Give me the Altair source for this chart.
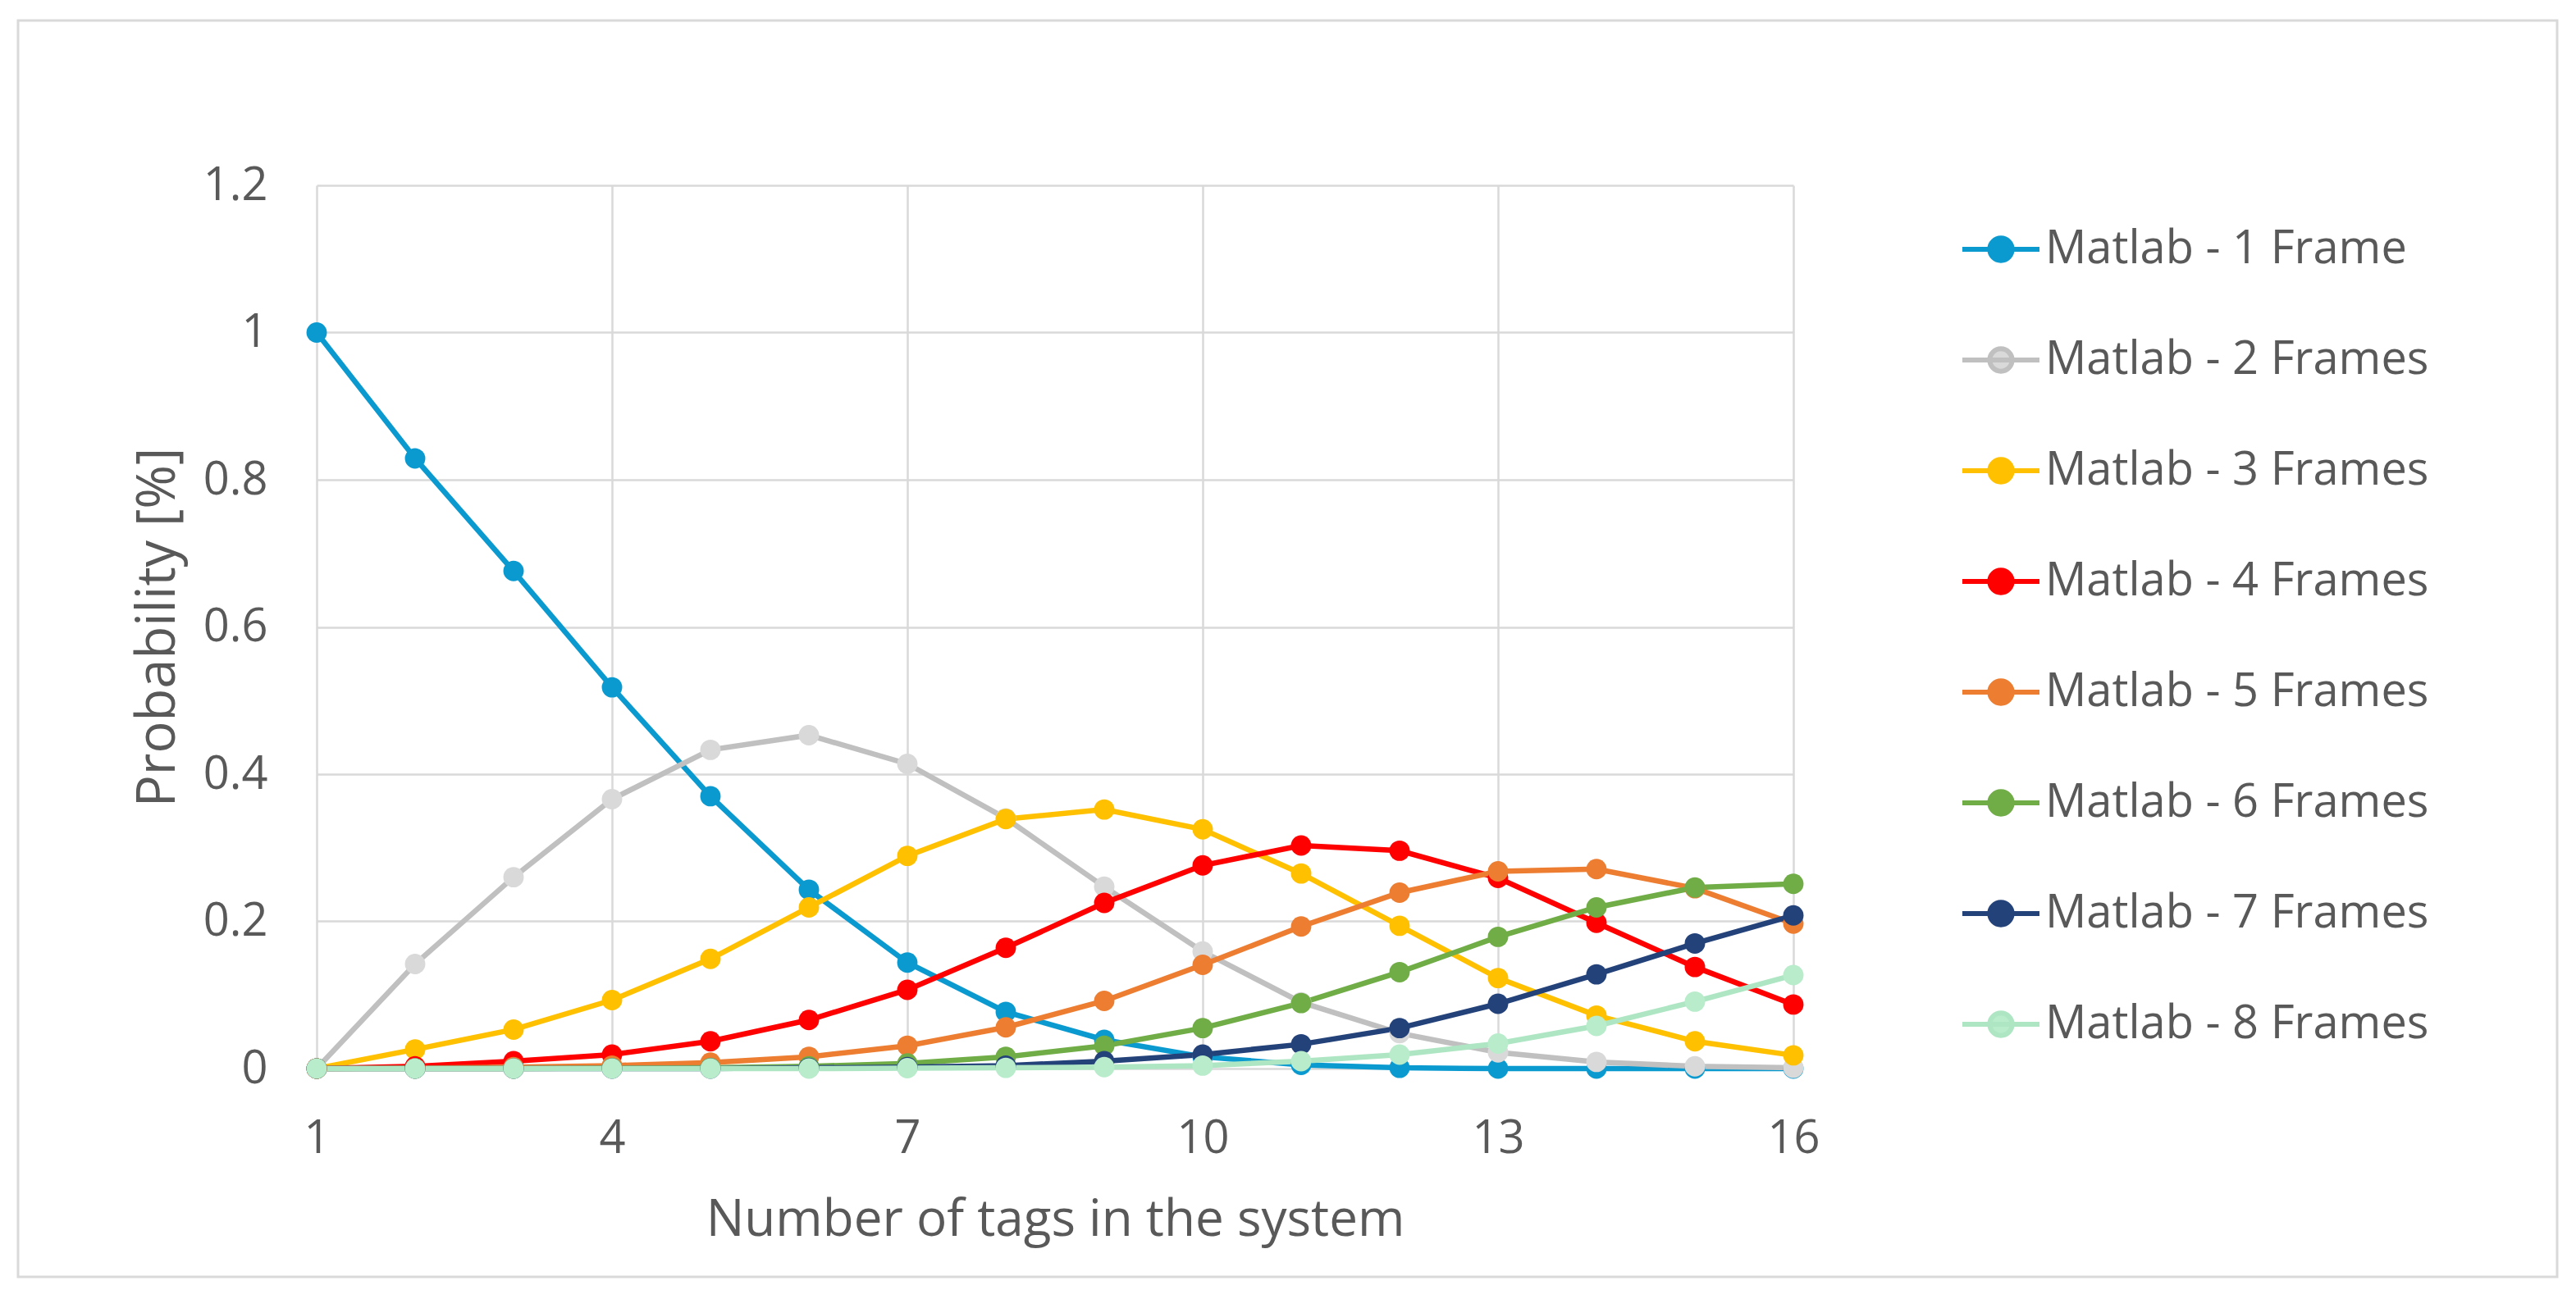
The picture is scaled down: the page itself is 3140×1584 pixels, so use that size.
import altair as alt
import pandas as pd

# ---------------- data ----------------
tags = list(range(1, 17))
series_names = [
    "Matlab - 1 Frame",
    "Matlab - 2 Frames",
    "Matlab - 3 Frames",
    "Matlab - 4 Frames",
    "Matlab - 5 Frames",
    "Matlab - 6 Frames",
    "Matlab - 7 Frames",
    "Matlab - 8 Frames",
]
p1 = [1.0, 0.829, 0.676, 0.518, 0.370, 0.243, 0.144, 0.077, 0.039, 0.016, 0.005, 0.001, 0.0, 0.0, 0.0, 0.0]
p2 = [0.0, 0.142, 0.260, 0.366, 0.433, 0.453, 0.414, 0.340, 0.247, 0.159, 0.090, 0.048, 0.022, 0.009, 0.003, 0.001]
p3 = [0.0, 0.026, 0.053, 0.093, 0.149, 0.219, 0.289, 0.339, 0.352, 0.325, 0.265, 0.194, 0.123, 0.072, 0.037, 0.018]
p4 = [0.0, 0.003, 0.010, 0.019, 0.037, 0.066, 0.107, 0.164, 0.225, 0.276, 0.303, 0.296, 0.259, 0.198, 0.138, 0.087]
p5 = [0.0, 0.0005, 0.002, 0.004, 0.008, 0.016, 0.031, 0.056, 0.092, 0.141, 0.193, 0.239, 0.268, 0.271, 0.245, 0.197]
p6 = [0.0, 0.0, 0.0, 0.0005, 0.001, 0.003, 0.007, 0.016, 0.031, 0.055, 0.089, 0.131, 0.179, 0.219, 0.246, 0.251]
p7 = [0.0, 0.0, 0.0, 0.0, 0.0, 0.001, 0.002, 0.004, 0.010, 0.019, 0.033, 0.055, 0.088, 0.128, 0.170, 0.208]
p8 = [0.0, 0.0, 0.0, 0.0, 0.0, 0.0, 0.0005, 0.001, 0.002, 0.004, 0.010, 0.019, 0.034, 0.058, 0.091, 0.127]
all_series = [p1, p2, p3, p4, p5, p6, p7, p8]

x_ticks = [1, 4, 7, 10, 13, 16]
y_ticks = [0, 0.2, 0.4, 0.6, 0.8, 1.0, 1.2]

line_colors = ["#0B9AD0", "#C0C0C0", "#FFC000", "#FF0000", "#ED7D31", "#70AD47", "#24427A", "#AEE6C4"]
marker_colors = ["#0B9AD0", "#D9D9D9", "#FFC000", "#FF0000", "#ED7D31", "#70AD47", "#24427A", "#B8ECCB"]

rows = []
for i, (name, vals) in enumerate(zip(series_names, all_series)):
    for t, v in zip(tags, vals):
        rows.append({"tags": t, "prob": v, "series": name, "k": i})
df = pd.DataFrame(rows)

# ---------------- layout ----------------
W, H = 1800, 1077
FONT = "Open Sans"
TXT = "#595959"
GRID = "#D9D9D9"

x_enc = alt.X(
    "tags:Q",
    scale=alt.Scale(domain=[1, 16], nice=False, zero=False),
    axis=alt.Axis(
        values=x_ticks,
        title="Number of tags in the system",
        labelPadding=58,
        labelFlush=False,
        titleX=W / 2,
        titleY=184,
        titleBaseline="middle",
        titleAlign="center",
    ),
)
y_enc = alt.Y(
    "prob:Q",
    scale=alt.Scale(domain=[0, 1.2], nice=False),
    axis=alt.Axis(
        values=y_ticks,
        format="~g",
        title="Probability [%]",
        titleFontSize=65,
        labelPadding=60,
        labelFlush=False,
        titleX=-194,
        titleY=H / 2,
        titleAngle=-90,
        titleBaseline="middle",
        titleAlign="center",
    ),
)

legend_path = "M-1,0L1,0M-0.29,0A0.29,0.29,0,1,1,0.29,0A0.29,0.29,0,1,1,-0.29,0Z"


def make_legend():
    return alt.Legend(
        title=None,
        orient="none",
        legendX=2003,
        legendY=28,
        symbolType=legend_path,
        symbolSize=8836,
        symbolStrokeWidth=6,
        symbolOpacity=1,
        labelFont=FONT,
        labelFontSize=56,
        labelColor=TXT,
        labelOffset=4,
        rowPadding=57,
        padding=0,
        labelLimit=1000,
    )


frame = alt.Chart(pd.DataFrame({"f": [0]})).mark_rect(
    fill="white", fillOpacity=0, stroke=GRID, strokeWidth=3, clip=False
).encode(
    x=alt.value(-364), x2=alt.value(2731), y=alt.value(-201), y2=alt.value(1331)
)

lines = alt.Chart(df).mark_line(strokeWidth=6.5).encode(
    x=x_enc,
    y=y_enc,
    stroke=alt.Stroke(
        "series:N",
        sort=series_names,
        scale=alt.Scale(domain=series_names, range=line_colors),
        legend=make_legend(),
    ),
    detail="k:O",
    order="tags:Q",
)

points = alt.Chart(df).mark_circle(size=620, opacity=1).encode(
    x=x_enc,
    y=y_enc,
    fill=alt.Fill(
        "series:N",
        sort=series_names,
        scale=alt.Scale(domain=series_names, range=marker_colors),
        legend=make_legend(),
    ),
    order="k:Q",
)

chart = (
    alt.layer(frame, lines, points)
    .properties(
        width=W,
        height=H,
        autosize=alt.AutoSizeParams(type="none"),
        padding={"left": 378, "top": 218, "right": 940, "bottom": 265},
        background="white",
    )
    .configure_view(stroke=None)
    .configure_axis(
        grid=True,
        gridColor=GRID,
        gridWidth=2.5,
        domain=False,
        ticks=False,
        labelFont=FONT,
        labelFontSize=56,
        labelColor=TXT,
        titleFont=FONT,
        titleFontSize=62,
        titleFontWeight="normal",
        titleColor=TXT,
    )
)

chart.save("out.html", embed_options={"renderer": "svg", "actions": False})
